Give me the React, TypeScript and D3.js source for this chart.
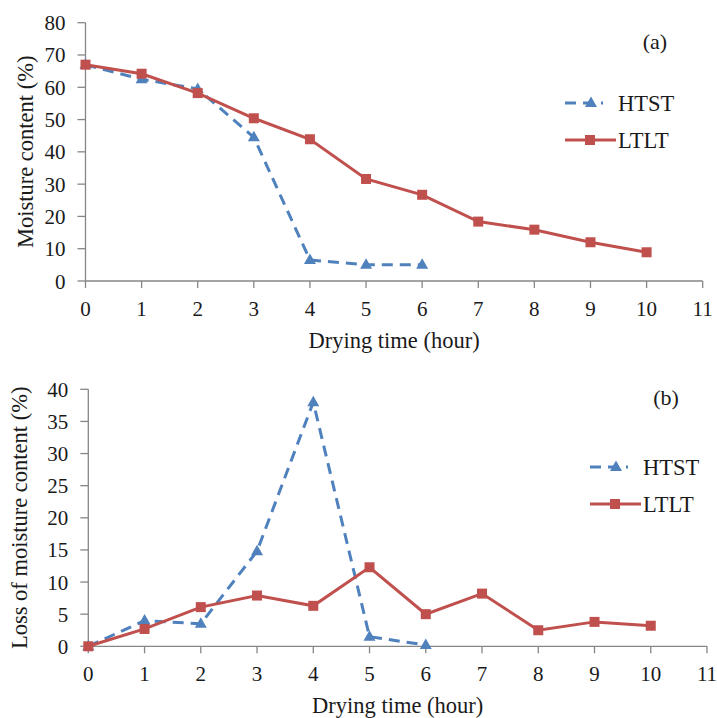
import React from 'react';
import * as d3 from 'd3';

// drying time (hour) for each reading
const hoursHTST = [0, 1, 2, 3, 4, 5, 6];
const hoursLTLT = [0, 1, 2, 3, 4, 5, 6, 7, 8, 9, 10];

// (a) moisture content (%)
const htstMoisture = [67, 62.5, 59.5, 44.5, 6.5, 5, 5];
const ltltMoisture = [67, 64.2, 58.2, 50.4, 43.9, 31.6, 26.7, 18.4, 15.9, 12, 8.9];

// (b) loss of moisture content (%)
const htstLoss = [0, 4.0, 3.5, 14.8, 38, 1.5, 0.2];
const ltltLoss = [0, 2.7, 6.1, 7.9, 6.3, 12.3, 5.0, 8.2, 2.5, 3.8, 3.2];

const xTicks = d3.range(0, 12);
const seriesNames = ['HTST', 'LTLT'];

const BLUE = '#4f81bd';
const RED = '#c0504d';
const AXIS = '#868686';
const FONT = "'Liberation Serif', 'DejaVu Serif', serif";

const tri = 'M0,-6.5L6,4L-6,4Z';

function Panel(props) {
  const { left, right, top, bottom, yMax, yStep, htst, ltlt, yTitle, titleX, label, labelX, labelY, legendX, legendY } = props;
  const x = d3.scaleLinear().domain([0, 11]).range([left, right]);
  const y = d3.scaleLinear().domain([0, yMax]).range([bottom, top]);
  const yTicks = d3.range(0, yMax + 0.001, yStep);
  const hData = htst.map((v, i) => [hoursHTST[i], v]);
  const lData = ltlt.map((v, i) => [hoursLTLT[i], v]);
  const ln = d3.line<number[]>().x(d => x(d[0])).y(d => y(d[1]));

  return (
    <g style={{ fontFamily: FONT }} fill="#1a1a1a">
      {/* axes */}
      <line x1={left} x2={left} y1={top} y2={bottom} stroke={AXIS} strokeWidth={1.3} />
      <line x1={left} x2={right} y1={bottom} y2={bottom} stroke={AXIS} strokeWidth={1.3} />
      {yTicks.map(t => (
        <g key={'y' + t}>
          <line x1={left - 8} x2={left} y1={y(t)} y2={y(t)} stroke={AXIS} strokeWidth={1.3} />
          <text x={left - 20} y={y(t) + 7.5} textAnchor="end" fontSize={21}>{t}</text>
        </g>
      ))}
      {xTicks.map(t => (
        <g key={'x' + t}>
          <line x1={x(t)} x2={x(t)} y1={bottom} y2={bottom + 7} stroke={AXIS} strokeWidth={1.3} />
          <text x={x(t)} y={bottom + 35} textAnchor="middle" fontSize={21}>{t}</text>
        </g>
      ))}
      <text x={(left + right) / 2} y={bottom + 67} textAnchor="middle" fontSize={22.5}>Drying time (hour)</text>
      <text transform={`translate(${titleX},${(top + bottom) / 2}) rotate(-90)`} textAnchor="middle" fontSize={22.5}>{yTitle}</text>
      <text x={labelX} y={labelY} textAnchor="middle" fontSize={22}>{label}</text>

      {/* HTST */}
      <path d={ln(hData)} fill="none" stroke={BLUE} strokeWidth={3} strokeDasharray="11,7" />
      {hData.map((d, i) => (
        <path key={'h' + i} d={tri} transform={`translate(${x(d[0])},${y(d[1])})`} fill={BLUE} />
      ))}
      {/* LTLT */}
      <path d={ln(lData)} fill="none" stroke={RED} strokeWidth={3} />
      {lData.map((d, i) => (
        <rect key={'l' + i} x={x(d[0]) - 5} y={y(d[1]) - 5} width={10} height={10} fill={RED} />
      ))}

      {/* legend */}
      <g transform={`translate(${legendX},${legendY})`}>
        <line x1={0} x2={38} y1={0} y2={0} stroke={BLUE} strokeWidth={3} strokeDasharray="11,7" />
        <path d={tri} transform="translate(26,0)" fill={BLUE} />
        <text x={53} y={8} fontSize={22.5}>{seriesNames[0]}</text>
        <line x1={0} x2={51} y1={37} y2={37} stroke={RED} strokeWidth={3} />
        <rect x={20} y={32} width={10} height={10} fill={RED} />
        <text x={53} y={45} fontSize={22.5}>{seriesNames[1]}</text>
      </g>
    </g>
  );
}

export default function App() {
  return (
    <svg width={717} height={718} style={{ position: 'absolute', left: 0, top: 0, background: '#fff' }}>
      <Panel left={85.5} right={702.7} top={22.7} bottom={281} yMax={80} yStep={10}
        htst={htstMoisture} ltlt={ltltMoisture} yTitle="Moisture content (%)" titleX={33}
        label="(a)" labelX={655} labelY={49} legendX={565} legendY={103} />
      <Panel left={88.3} right={707} top={389.3} bottom={646.3} yMax={40} yStep={5}
        htst={htstLoss} ltlt={ltltLoss} yTitle="Loss of moisture content (%)" titleX={27}
        label="(b)" labelX={666} labelY={405} legendX={590} legendY={467} />
    </svg>
  );
}
